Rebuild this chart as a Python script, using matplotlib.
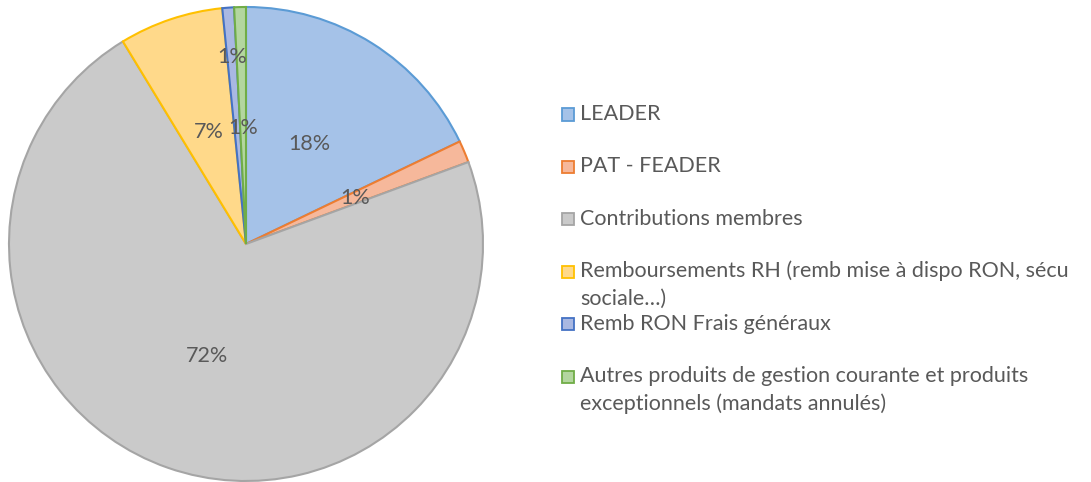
import matplotlib
matplotlib.use("Agg")
import matplotlib.pyplot as plt
from matplotlib.patches import Rectangle
import numpy as np

categories = [
    "LEADER",
    "PAT - FEADER",
    "Contributions membres",
    "Remboursements RH (remb mise à dispo RON, sécu\nsociale…)",
    "Remb RON Frais généraux",
    "Autres produits de gestion courante et produits\nexceptionnels (mandats annulés)",
]
values = [17.9, 1.5, 72.0, 7.1, 0.8, 0.8]
labels_pct = ["18%", "1%", "72%", "7%", "1%", "1%"]
fills = ["#A5C2E8", "#F6B89B", "#CACACA", "#FFD98A", "#A9B8E2", "#B3D69F"]
edges = ["#5B9BD5", "#ED7D31", "#A5A5A5", "#FFC000", "#4472C4", "#70AD47"]

plt.rcParams['font.family'] = ['Lato', 'DejaVu Sans']
W, H = 1091, 482
fig = plt.figure(figsize=(W / 100, H / 100), dpi=100)

cx, cy, r = 246, 244, 237
ax = fig.add_axes([(cx - r) / W, (H - cy - r) / H, 2 * r / W, 2 * r / H])
wedges, _ = ax.pie(values, startangle=90, counterclock=False, colors=fills,
                   wedgeprops=dict(linewidth=1.5, edgecolor="none"), radius=1)
for w, ec in zip(wedges, edges):
    w.set_edgecolor(ec)
ax.set_xlim(-1, 1)
ax.set_ylim(-1, 1)
ax.set_aspect("equal")
ax.axis("off")

label_r = [0.5, 0.5, 0.5, 0.5, 0.79, 0.49]
for w, lab, lr in zip(wedges, labels_pct, label_r):
    mid = np.deg2rad((w.theta1 + w.theta2) / 2)
    ax.text(lr * np.cos(mid), lr * np.sin(mid), lab, ha="center", va="center",
            fontsize=15.5, color="#595959")

# legend
y0, dy, line_h = 114, 52.4, 28
for i, (cat, fc, ec) in enumerate(zip(categories, fills, edges)):
    y = y0 + i * dy
    fig.patches.append(Rectangle((562 / W, (H - y - 6.5) / H), 12 / W, 12 / H,
                                 transform=fig.transFigure, facecolor=fc,
                                 edgecolor=ec, linewidth=1.3))
    for j, line in enumerate(cat.split("\n")):
        fig.text(580 / W, (H - y - j * line_h) / H, line, ha="left", va="center",
                 fontsize=15.5, color="#595959")

fig.savefig("out.png", dpi=100)
